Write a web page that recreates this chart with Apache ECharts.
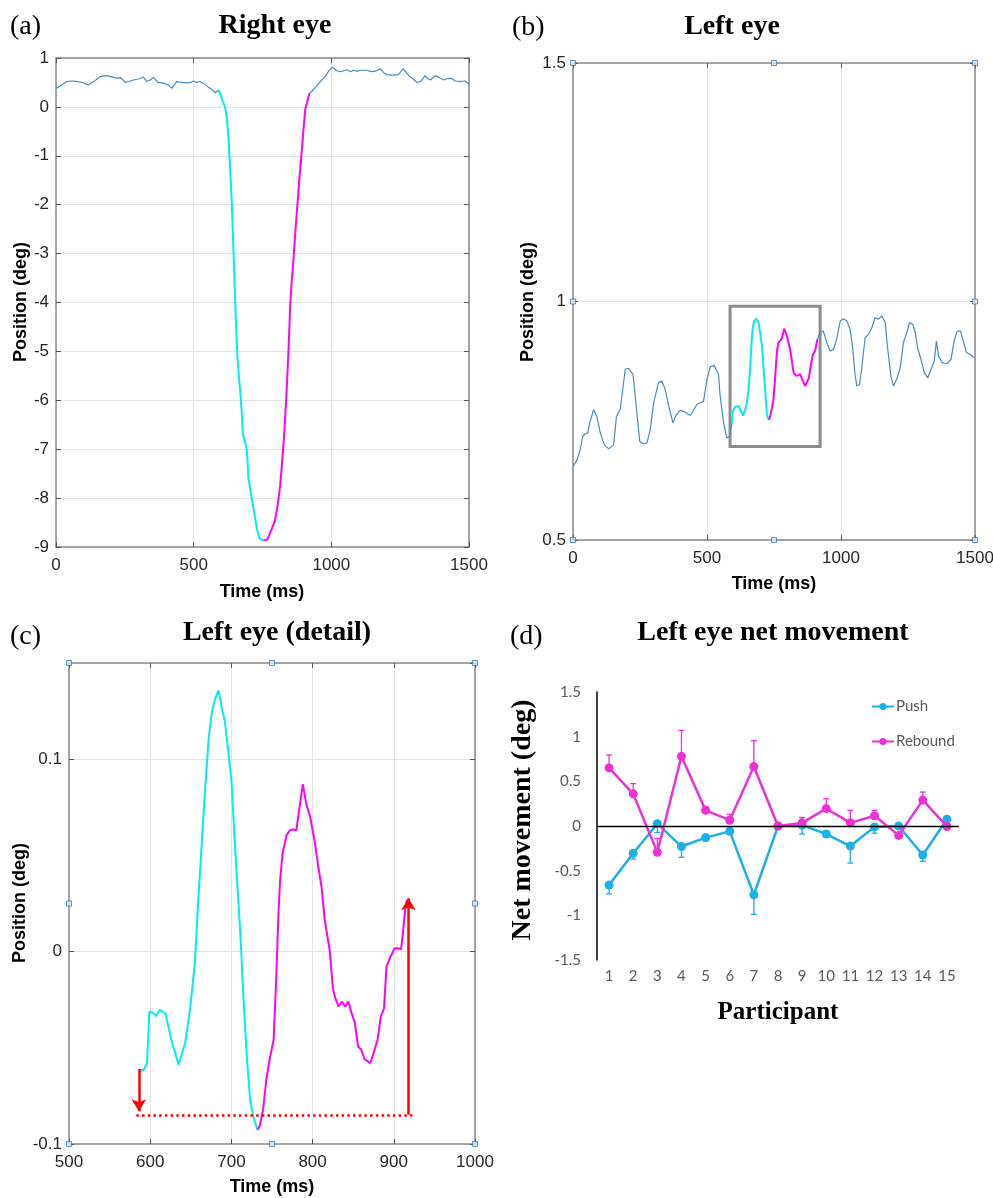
<!DOCTYPE html>
<html>
<head>
<meta charset="utf-8">
<script src="https://cdn.jsdelivr.net/npm/echarts@6/dist/echarts.min.js"></script>
<style>
  html, body { margin: 0; padding: 0; background: #fff; }
  #main { width: 993px; height: 1198px; }
</style>
</head>
<body>
<div id="main"></div>
<script>
// (a) 右眼 - 时间/位置
const rightPre = [[2,0.38],[20,0.45],[39,0.52],[55,0.53],[75,0.52],[95,0.5],[117,0.45],[140,0.53],[160,0.62],[184,0.64],[200,0.62],[220,0.59],[235,0.6],[251,0.5],[265,0.52],[281,0.55],[300,0.57],[317,0.61],[330,0.52],[342,0.55],[354,0.6],[372,0.5],[395,0.48],[410,0.44],[420,0.38],[430,0.45],[439,0.52],[455,0.5],[475,0.49],[490,0.5],[499,0.53],[510,0.5],[523,0.52],[540,0.47],[554,0.4],[565,0.36],[578,0.29],[590,0.34]];
const rightPush = [[590,0.34],[598,0.25],[606,0.11],[614,0.0],[620,-0.2],[627,-0.68],[632,-1.2],[638,-1.9],[645,-3.0],[651,-4.0],[655,-4.6],[659,-5.1],[664,-5.5],[669,-5.8],[674,-6.2],[679,-6.7],[687,-6.85],[693,-7.0],[699,-7.6],[708,-7.9],[717,-8.2],[723,-8.4],[729,-8.6],[735,-8.75],[739,-8.82],[746,-8.86],[754,-8.87]];
const rightRebound = [[754,-8.87],[760,-8.87],[766,-8.85],[773,-8.78],[780,-8.68],[788,-8.57],[796,-8.44],[805,-8.15],[814,-7.75],[820,-7.35],[826,-6.93],[832,-6.4],[838,-5.77],[845,-4.9],[851,-4.0],[857,-3.5],[863,-3.08],[870,-2.5],[878,-1.91],[885,-1.4],[893,-0.88],[899,-0.45],[905,-0.06],[912,0.1],[921,0.28]];
const rightPost = [[921,0.28],[935,0.35],[950,0.45],[965,0.55],[978,0.62],[990,0.73],[1004,0.81],[1020,0.74],[1035,0.72],[1045,0.74],[1057,0.76],[1070,0.72],[1080,0.75],[1093,0.73],[1110,0.75],[1129,0.75],[1145,0.72],[1160,0.73],[1178,0.78],[1190,0.7],[1202,0.66],[1220,0.65],[1244,0.66],[1260,0.78],[1270,0.72],[1281,0.64],[1295,0.58],[1311,0.5],[1325,0.52],[1341,0.64],[1350,0.58],[1360,0.55],[1370,0.6],[1378,0.64],[1392,0.6],[1408,0.55],[1420,0.58],[1438,0.58],[1450,0.53],[1469,0.52],[1485,0.53],[1499,0.47]];

// (b) 左眼
const leftPre = [[0,0.654],[15,0.668],[27,0.689],[36,0.717],[46,0.723],[55,0.724],[62,0.745],[77,0.773],[89,0.759],[102,0.724],[117,0.700],[133,0.691],[152,0.700],[162,0.759],[176,0.773],[195,0.858],[207,0.860],[224,0.847],[232,0.802],[249,0.707],[263,0.702],[276,0.703],[288,0.731],[301,0.788],[319,0.830],[332,0.833],[344,0.816],[357,0.781],[373,0.745],[382,0.759],[400,0.772],[419,0.768],[437,0.761],[450,0.772],[462,0.784],[487,0.791],[500,0.837],[512,0.863],[527,0.866],[543,0.847],[549,0.802],[562,0.745],[574,0.714],[584,0.717],[593,0.745]];
const leftPush = [[593,0.745],[596,0.77],[605,0.779],[617,0.781],[626,0.772],[634,0.761],[642,0.772],[649,0.788],[654,0.81],[659,0.844],[663,0.88],[667,0.921],[671,0.945],[676,0.959],[684,0.964],[692,0.956],[698,0.935],[705,0.907],[711,0.86],[717,0.816],[723,0.766],[728,0.755],[732,0.752]];
const leftRebound = [[732,0.752],[736,0.761],[742,0.775],[748,0.795],[753,0.83],[758,0.872],[762,0.9],[767,0.914],[773,0.918],[779,0.922],[788,0.943],[798,0.928],[810,0.900],[817,0.875],[823,0.851],[833,0.844],[840,0.846],[848,0.847],[858,0.833],[867,0.823],[873,0.826],[880,0.84],[885,0.858],[895,0.889],[903,0.896],[912,0.921]];
const leftPost = [[912,0.921],[922,0.935],[934,0.938],[947,0.914],[959,0.896],[972,0.900],[984,0.921],[997,0.959],[1009,0.964],[1022,0.959],[1034,0.942],[1044,0.900],[1053,0.844],[1059,0.823],[1069,0.826],[1077,0.858],[1090,0.924],[1102,0.931],[1115,0.945],[1127,0.966],[1140,0.963],[1152,0.970],[1165,0.956],[1173,0.907],[1186,0.844],[1196,0.823],[1208,0.837],[1221,0.861],[1233,0.914],[1246,0.935],[1256,0.956],[1268,0.952],[1277,0.935],[1286,0.903],[1298,0.879],[1311,0.851],[1324,0.840],[1336,0.858],[1348,0.875],[1356,0.917],[1364,0.886],[1377,0.872],[1396,0.870],[1411,0.879],[1421,0.914],[1433,0.938],[1446,0.938],[1458,0.914],[1468,0.893],[1483,0.889],[1496,0.882]];
// 放大区域框 (b)
const zoomBoxX = [586, 922];
const zoomBoxY = [0.696, 0.99];

// (c) 左眼 细节
const detailPush = [[587,-0.0623],[592,-0.0614],[596,-0.0583],[599,-0.0311],[603,-0.0317],[607,-0.0334],[612,-0.0303],[619,-0.0324],[626,-0.0458],[635,-0.0588],[643,-0.0476],[649,-0.0303],[655,-0.0061],[659,0.0251],[663,0.0528],[667,0.0804],[672,0.1107],[676,0.1246],[680,0.1315],[684,0.1358],[688,0.1272],[692,0.1194],[696,0.1047],[700,0.0891],[704,0.058],[709,0.0234],[711,0.0095],[715,-0.025],[719,-0.0545],[723,-0.077],[727,-0.0856],[732,-0.0926]];
const detailRebound = [[732,-0.0926],[735,-0.0905],[739,-0.0822],[743,-0.0666],[747,-0.0562],[752,-0.0458],[755,-0.0164],[758,0.02],[760,0.0372],[763,0.051],[768,0.0606],[772,0.0631],[776,0.0635],[780,0.0631],[784,0.0753],[788,0.087],[792,0.077],[797,0.0701],[803,0.0562],[807,0.0441],[811,0.0337],[815,0.0164],[821,0.0009],[825,-0.019],[828,-0.0242],[832,-0.0285],[836,-0.026],[840,-0.0285],[844,-0.026],[848,-0.032],[852,-0.037],[856,-0.0493],[860,-0.051],[864,-0.0559],[871,-0.058],[875,-0.0528],[880,-0.0458],[884,-0.0337],[888,-0.0294],[891,-0.0078],[896,-0.0026],[901,0.0017],[905,0.0017],[909,0.0012],[912,0.013],[914,0.0216],[916,0.0268]];
// 红色箭头
const arrowDown = [[586,-0.061],[586,-0.083]];
const dottedBase = [[583,-0.0848],[923,-0.0848]];
const arrowUp = [[918,-0.0848],[918,0.0277]];

// (d) 净移动
const participants = ['1','2','3','4','5','6','7','8','9','10','11','12','13','14','15'];
const pushVals = [-0.66,-0.305,0.026,-0.23,-0.13,-0.06,-0.77,0.0,0.01,-0.09,-0.225,-0.01,0.0,-0.325,0.075];
const pushErr = [0.1,0.065,0.1,0.12,0.035,0.02,0.22,0,0.1,0.02,0.19,0.07,0.02,0.07,0.02];
const reboundVals = [0.65,0.36,-0.295,0.78,0.175,0.065,0.665,0.0,0.035,0.195,0.035,0.115,-0.105,0.29,-0.005];
const reboundErr = [0.145,0.115,0.155,0.29,0.04,0.065,0.29,0,0.06,0.11,0.14,0.06,0.02,0.09,0];

// 坐标轴范围
const rangeA = { x: [0, 1500], y: [-9, 1], xi: 500, yi: 1 };
const rangeB = { x: [0, 1500], y: [0.5, 1.5], xi: 500, yi: 0.5 };
const rangeC = { x: [500, 1000], y: [-0.1, 0.15], xi: 100, yi: 0.1 };

const BLUE = '#4a8bbd', CYAN = '#00eeee', MAGENTA = '#ff00ff';
const PUSH = '#1cb0e6', REBOUND = '#f030d2';
const SANS = 'Liberation Sans', SERIF = 'Liberation Serif';

var myChart = echarts.init(document.getElementById('main'), null, { renderer: 'canvas' });

const boxLine = { show: true, lineStyle: { color: '#8a8a8a', width: 1.5 } };
const boxTick = { show: true, inside: true, length: 5, lineStyle: { color: '#555', width: 1 } };
const tickLabel = { color: '#262626', fontFamily: SANS, fontSize: 17, formatter: v => String(v) };

// 每个面板四条轴 (下/上, 左/右) 组成 MATLAB 风格的框
function boxAxes(grid, r, hideMax) {
  const xs = [
    { type: 'value', gridIndex: grid, min: r.x[0], max: r.x[1], interval: r.xi, position: 'bottom',
      axisLine: Object.assign({ onZero: false }, boxLine), axisTick: boxTick,
      axisLabel: Object.assign({ margin: 10 }, tickLabel),
      splitLine: { show: true, lineStyle: { color: '#e4e4e4', width: 1 } } },
    { type: 'value', gridIndex: grid, min: r.x[0], max: r.x[1], interval: r.xi, position: 'top',
      axisLine: Object.assign({ onZero: false }, boxLine), axisTick: boxTick,
      axisLabel: { show: false }, splitLine: { show: false } }
  ];
  const ys = [
    { type: 'value', gridIndex: grid, min: r.y[0], max: r.y[1], interval: r.yi, position: 'left',
      axisLine: Object.assign({ onZero: false }, boxLine), axisTick: boxTick,
      axisLabel: Object.assign({ margin: 7, showMaxLabel: !hideMax }, tickLabel),
      splitLine: { show: true, lineStyle: { color: '#e4e4e4', width: 1 } } },
    { type: 'value', gridIndex: grid, min: r.y[0], max: r.y[1], interval: r.yi, position: 'right',
      axisLine: Object.assign({ onZero: false }, boxLine), axisTick: boxTick,
      axisLabel: { show: false }, splitLine: { show: false } }
  ];
  return { xs, ys };
}

function trace(data, color, width, xi, yi) {
  return { type: 'line', data: data, xAxisIndex: xi, yAxisIndex: yi, showSymbol: false,
    symbol: 'none', lineStyle: { color: color, width: width }, itemStyle: { color: color },
    silent: true, z: 3 };
}

// 选中框的小方块手柄
function handles(r, xi, yi) {
  const xm = (r.x[0] + r.x[1]) / 2, ym = (r.y[0] + r.y[1]) / 2;
  const pts = [[r.x[0], r.y[0]], [xm, r.y[0]], [r.x[1], r.y[0]], [r.x[0], ym], [r.x[1], ym],
    [r.x[0], r.y[1]], [xm, r.y[1]], [r.x[1], r.y[1]]];
  return { type: 'scatter', data: pts, xAxisIndex: xi, yAxisIndex: yi, symbol: 'rect', symbolSize: 5,
    clip: false, silent: true, z: 10,
    itemStyle: { color: '#dce9f6', borderColor: '#3d7ab8', borderWidth: 1 } };
}

// 单侧误差线
function errorBars(vals, errs, color, dir) {
  return {
    type: 'custom', xAxisIndex: 6, yAxisIndex: 6, silent: true, z: 2,
    data: vals.map((v, i) => [i, v, errs[i]]),
    encode: { x: 0, y: 1 },
    renderItem: function (params, api) {
      const x = api.value(0), y = api.value(1), e = api.value(2);
      const p0 = api.coord([x, y]);
      const p1 = api.coord([x, y + dir * e]);
      return { type: 'group', children: [
        { type: 'line', shape: { x1: p0[0], y1: p0[1], x2: p1[0], y2: p1[1] }, style: { stroke: color, lineWidth: 1.3 } },
        { type: 'line', shape: { x1: p1[0] - 3, y1: p1[1], x2: p1[0] + 3, y2: p1[1] }, style: { stroke: color, lineWidth: 1.3 } }
      ] };
    }
  };
}

function txt(text, x, y, font, opts) {
  opts = opts || {};
  return { type: 'text', x: x, y: y, rotation: opts.rot || 0, silent: true,
    style: { text: text, font: font, fill: opts.fill || '#000',
      align: opts.align || 'center', verticalAlign: 'middle',
      textAlign: opts.align || 'center', textVerticalAlign: 'middle' } };
}

const A = boxAxes(0, rangeA, false);
const B = boxAxes(1, rangeB, false);
const C = boxAxes(2, rangeC, true);

const xAxes = [].concat(A.xs, B.xs, C.xs, [{
  type: 'category', gridIndex: 3, data: participants, boundaryGap: true, position: 'bottom',
  axisLine: { show: false, onZero: false }, axisTick: { show: false },
  axisLabel: { color: '#595959', fontFamily: 'Lato', fontSize: 15, margin: 9 },
  splitLine: { show: false }
}]);
const yAxes = [].concat(A.ys, B.ys, C.ys, [{
  type: 'value', gridIndex: 3, min: -1.5, max: 1.5, interval: 0.5,
  axisLine: { show: true, onZero: false, lineStyle: { color: '#000', width: 1.5 } },
  axisTick: { show: false },
  axisLabel: { color: '#595959', fontFamily: 'Lato', fontSize: 15, margin: 16 },
  splitLine: { show: false }
}]);

const redLine = { color: '#ff0000', width: 2.5, type: 'solid' };

let option = {
  animation: false,
  backgroundColor: '#fff',
  grid: [
    { left: 56, top: 58, width: 413, height: 489, outerBoundsMode: 'none' },
    { left: 573, top: 63, width: 402, height: 477, outerBoundsMode: 'none' },
    { left: 69, top: 663, width: 406, height: 481, outerBoundsMode: 'none' },
    { left: 597, top: 692, width: 362, height: 268, outerBoundsMode: 'none' }
  ],
  xAxis: xAxes,
  yAxis: yAxes,
  legend: {
    data: ['Push', 'Rebound'], orient: 'vertical', left: 866, top: 694, itemGap: 20,
    itemWidth: 22, itemHeight: 9, selectedMode: false,
    textStyle: { color: '#595959', fontFamily: 'Lato', fontSize: 15, padding: [0, 0, 0, -3] }
  },
  series: [
    // (a)
    trace(rightPre, BLUE, 1.2, 0, 0),
    trace(rightPost, BLUE, 1.2, 0, 0),
    trace(rightPush, CYAN, 2, 0, 0),
    trace(rightRebound, MAGENTA, 2, 0, 0),
    // (b)
    trace(leftPre, BLUE, 1.2, 2, 2),
    trace(leftPost, BLUE, 1.2, 2, 2),
    Object.assign(trace(leftPush, CYAN, 2, 2, 2), {
      markArea: { silent: true, z: 1,
        itemStyle: { color: 'rgba(0,0,0,0)', borderColor: '#8c8c8c', borderWidth: 3 },
        data: [[{ coord: [zoomBoxX[0], zoomBoxY[1]] }, { coord: [zoomBoxX[1], zoomBoxY[0]] }]] }
    }),
    trace(leftRebound, MAGENTA, 2, 2, 2),
    handles(rangeB, 2, 2),
    // (c)
    trace(detailPush, CYAN, 2, 4, 4),
    Object.assign(trace(detailRebound, MAGENTA, 2, 4, 4), {
      markLine: { silent: true, animation: false, symbolSize: [11, 12], label: { show: false },
        lineStyle: redLine, emphasis: { disabled: true },
        data: [
          [{ coord: arrowDown[0], symbol: 'none' }, { coord: arrowDown[1], symbol: 'arrow' }],
          [{ coord: dottedBase[0], symbol: 'none', lineStyle: { color: '#ff0000', width: 2.5, type: [2.5, 3.2] } },
           { coord: dottedBase[1], symbol: 'none' }],
          [{ coord: arrowUp[0], symbol: 'none' }, { coord: arrowUp[1], symbol: 'arrow' }]
        ] }
    }),
    handles(rangeC, 4, 4),
    // (d)
    errorBars(pushVals, pushErr, PUSH, -1),
    errorBars(reboundVals, reboundErr, REBOUND, 1),
    { name: 'Push', type: 'line', xAxisIndex: 6, yAxisIndex: 6, data: pushVals,
      symbol: 'circle', symbolSize: 9, showSymbol: true, z: 3,
      lineStyle: { color: PUSH, width: 2.5 }, itemStyle: { color: PUSH },
      markLine: { silent: true, symbol: 'none', label: { show: false },
        lineStyle: { color: '#000', width: 1.3, type: 'solid' }, data: [{ yAxis: 0 }] } },
    { name: 'Rebound', type: 'line', xAxisIndex: 6, yAxisIndex: 6, data: reboundVals,
      symbol: 'circle', symbolSize: 9, showSymbol: true, z: 4,
      lineStyle: { color: REBOUND, width: 2.5 }, itemStyle: { color: REBOUND } }
  ],
  graphic: [
    txt('(a)', 10, 27, '28px ' + SERIF, { align: 'left' }),
    txt('Right eye', 275, 26, 'bold 28px ' + SERIF),
    txt('(b)', 512, 28, '28px ' + SERIF, { align: 'left' }),
    txt('Left eye', 732, 27, 'bold 28px ' + SERIF),
    txt('(c)', 10, 637, '28px ' + SERIF, { align: 'left' }),
    txt('Left eye (detail)', 277, 633, 'bold 28px ' + SERIF),
    txt('(d)', 510, 637, '28px ' + SERIF, { align: 'left' }),
    txt('Left eye net movement', 773, 633, 'bold 28px ' + SERIF),
    txt('Position (deg)', 21, 302, 'bold 18px ' + SANS, { rot: Math.PI / 2 }),
    txt('Time (ms)', 262, 592, 'bold 18px ' + SANS),
    txt('Position (deg)', 528, 302, 'bold 18px ' + SANS, { rot: Math.PI / 2 }),
    txt('Time (ms)', 774, 584, 'bold 18px ' + SANS),
    txt('Position (deg)', 20, 903, 'bold 18px ' + SANS, { rot: Math.PI / 2 }),
    txt('Time (ms)', 272, 1187, 'bold 18px ' + SANS),
    txt('Net movement (deg)', 523, 820, 'bold 28px ' + SERIF, { rot: Math.PI / 2 }),
    txt('Participant', 778, 1013, 'bold 25px ' + SERIF)
  ]
};

myChart.setOption(option);
</script>
</body>
</html>
